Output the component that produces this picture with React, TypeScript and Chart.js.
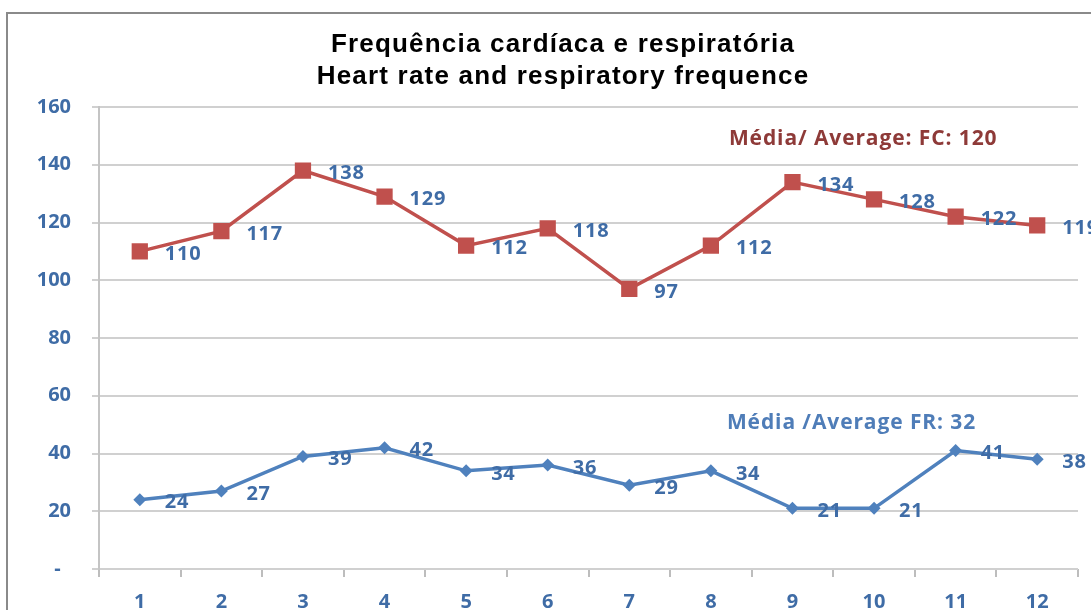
import React, { useEffect, useRef } from "react";
import { Chart, registerables } from "chart.js";

Chart.register(...registerables);

const categories = ["1", "2", "3", "4", "5", "6", "7", "8", "9", "10", "11", "12"];
const heartRate = [110, 117, 138, 129, 112, 118, 97, 112, 134, 128, 122, 119];
const respRate = [24, 27, 39, 42, 34, 36, 29, 34, 21, 21, 41, 38];
const titleLines = ["Frequência cardíaca e respiratória", "Heart rate and respiratory frequence"];
const fcNote = "Média/ Average: FC: 120";
const frNote = "Média /Average FR: 32";

const LABEL_BLUE = "#3F6CA6";
const RED = "#C0504D";
const BLUE = "#4F81BD";

const decorPlugin = {
  id: "decor",
  beforeDraw(chart: any) {
    const ctx = chart.ctx;
    ctx.save();
    ctx.fillStyle = "#ffffff";
    ctx.fillRect(0, 0, chart.width, chart.height);
    ctx.strokeStyle = "#8a8a8a";
    ctx.lineWidth = 2;
    ctx.strokeRect(7, 13, chart.width + 100, chart.height + 100);
    ctx.restore();
  },
  afterDraw(chart: any) {
    const ctx = chart.ctx;
    const xs = chart.scales.x;
    const ys = chart.scales.y;
    ctx.save();
    // title
    ctx.fillStyle = "#000000";
    ctx.font = "bold 26px 'Liberation Sans', Arial, sans-serif";
    ctx.textAlign = "center";
    ctx.textBaseline = "middle";
    ctx.letterSpacing = "1.2px";
    ctx.fillText(titleLines[0], 563, 45);
    ctx.fillText(titleLines[1], 563, 77);
    // data labels
    ctx.letterSpacing = "0.8px";
    ctx.font = "bold 20px 'Open Sans', sans-serif";
    ctx.fillStyle = LABEL_BLUE;
    ctx.textAlign = "left";
    chart.data.datasets.forEach((ds: any, di: number) => {
      const meta = chart.getDatasetMeta(di);
      meta.data.forEach((pt: any, i: number) => {
        ctx.fillText(String(ds.data[i]), pt.x + 25, pt.y + 3);
      });
    });
    // annotations
    ctx.letterSpacing = "0.9px";
    ctx.font = "bold 21px 'Open Sans', sans-serif";
    ctx.fillStyle = "#8E3A38";
    ctx.fillText(fcNote, xs.getPixelForValue(7) + 18, ys.getPixelForValue(149));
    ctx.fillStyle = "#4F7DB8";
    ctx.fillText(frNote, xs.getPixelForValue(7) + 16, ys.getPixelForValue(50.5));
    ctx.restore();
  },
};

export default function App() {
  const ref = useRef<HTMLCanvasElement | null>(null);
  useEffect(() => {
    if (!ref.current) return;
    const tickFont = { family: "'Open Sans', sans-serif", size: 20, weight: "bold" as const };
    const chart = new Chart(ref.current, {
      type: "line",
      data: {
        labels: categories,
        datasets: [
          {
            label: "FC",
            data: heartRate,
            borderColor: RED,
            backgroundColor: RED,
            borderWidth: 3.5,
            pointStyle: "rect",
            pointRadius: 11.5,
            pointBorderWidth: 0,
            pointBackgroundColor: RED,
            tension: 0,
          },
          {
            label: "FR",
            data: respRate,
            borderColor: BLUE,
            backgroundColor: BLUE,
            borderWidth: 3.5,
            pointStyle: "rectRot",
            pointRadius: 6.5,
            pointBorderWidth: 0,
            pointBackgroundColor: BLUE,
            tension: 0,
          },
        ],
      },
      options: {
        animation: false,
        responsive: true,
        maintainAspectRatio: false,
        layout: { padding: { top: 107, right: 13, left: 0, bottom: 0 } },
        plugins: { legend: { display: false }, title: { display: false }, tooltip: { enabled: false } },
        scales: {
          x: {
            offset: true,
            grid: { offset: true, drawOnChartArea: false, drawTicks: true, tickLength: 8, color: "#bdbdbd", lineWidth: 2 },
            border: { display: false },
            ticks: { color: LABEL_BLUE, font: tickFont, padding: 13 },
            afterFit: (s: any) => { s.height = 41; },
          },
          y: {
            min: 0,
            max: 160,
            ticks: {
              stepSize: 20,
              color: LABEL_BLUE,
              font: tickFont,
              padding: 21,
              callback: (v: any) => (v === 0 ? "-  " : String(v)),
            },
            grid: { color: "#d0d0d0", lineWidth: 2, tickLength: 7 },
            border: { color: "#c4c4c4", width: 2 },
            afterFit: (s: any) => { s.width = 99; },
          },
        },
      },
      plugins: [decorPlugin],
    });
    return () => chart.destroy();
  }, []);
  return (
    <div style={{ position: "fixed", left: 0, top: 0, width: "1091px", height: "610px", background: "#fff" }}>
      <canvas ref={ref} />
    </div>
  );
}
